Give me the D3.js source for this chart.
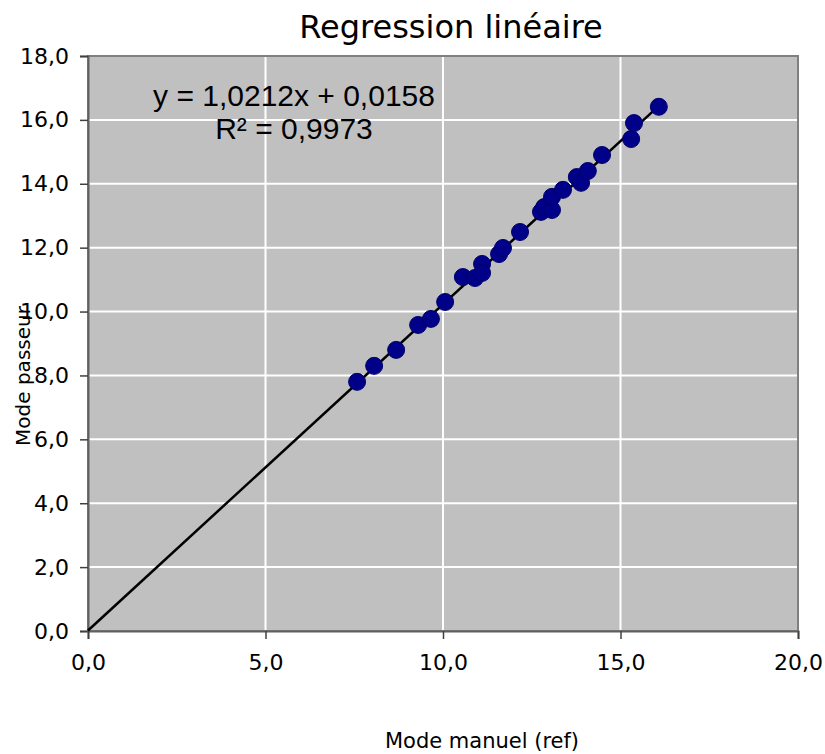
<!DOCTYPE html>
<html>
<head>
<meta charset="utf-8">
<script src="https://cdn.jsdelivr.net/npm/d3@7/dist/d3.min.js"></script>
<style>
html,body{margin:0;padding:0;background:#fff;}
svg{display:block;}
</style>
</head>
<body>
<svg id="chart" width="825" height="754"></svg>
<script>
const xValues = [7.58, 8.06, 8.68, 9.30, 9.66, 10.06, 10.56, 10.90, 11.10, 11.10, 11.58, 11.69, 12.17, 12.76, 12.85, 13.07, 13.07, 13.38, 13.77, 13.89, 14.08, 14.48, 15.30, 15.38, 16.08];
const yValues = [7.80, 8.30, 8.80, 9.58, 9.77, 10.30, 11.08, 11.05, 11.49, 11.21, 11.80, 11.99, 12.49, 13.12, 13.27, 13.18, 13.59, 13.81, 14.21, 14.03, 14.40, 14.90, 15.40, 15.90, 16.41];
const xTicks = [0, 5, 10, 15, 20];
const yTicks = [0, 2, 4, 6, 8, 10, 12, 14, 16, 18];
const slope = 1.0212, intercept = 0.0158;
const titleText = "Regression linéaire";
const eqText = "y = 1,0212x + 0,0158";
const r2Text = "R² = 0,9973";
const xTitle = "Mode manuel (ref)";
const yTitle = "Mode passeur";

const svg = d3.select("#chart");
const L = 88, R = 798, T = 56, B = 631;
const x = d3.scaleLinear().domain([0, 20]).range([L, R]);
const y = d3.scaleLinear().domain([0, 18]).range([B, T]);
const fmt = d => d.toFixed(1).replace(".", ",");

svg.append("rect").attr("x", L).attr("y", T).attr("width", R - L).attr("height", B - T).attr("fill", "#c0c0c0");

// gridlines
svg.append("g").selectAll("line").data(yTicks.slice(1, -1)).join("line")
  .attr("x1", L).attr("x2", R).attr("y1", d => y(d)).attr("y2", d => y(d))
  .attr("stroke", "#fff").attr("stroke-width", 2);
svg.append("g").selectAll("line").data(xTicks.slice(1, -1)).join("line")
  .attr("y1", T).attr("y2", B).attr("x1", d => x(d)).attr("x2", d => x(d))
  .attr("stroke", "#fff").attr("stroke-width", 2);

svg.append("rect").attr("x", L).attr("y", T).attr("width", R - L).attr("height", B - T)
  .attr("fill", "none").attr("stroke", "#808080").attr("stroke-width", 2);

// axes
const yAxis = svg.append("g").attr("transform", `translate(${L},0)`)
  .call(d3.axisLeft(y).tickValues(yTicks).tickFormat(fmt).tickSize(8).tickPadding(11));
const xAxis = svg.append("g").attr("transform", `translate(0,${B})`)
  .call(d3.axisBottom(x).tickValues(xTicks).tickFormat(fmt).tickSize(8).tickPadding(15));
[yAxis, xAxis].forEach(a => {
  a.select(".domain").attr("stroke", "#606060").attr("stroke-width", 2);
  a.selectAll(".tick line").attr("stroke", "#404040").attr("stroke-width", 1.5);
  a.selectAll(".tick text").attr("fill", "#000").style("font-family", "DejaVu Sans").style("font-size", "22px");
});

// trend line
svg.append("line")
  .attr("x1", x(0)).attr("y1", y(intercept))
  .attr("x2", x(d3.max(xValues))).attr("y2", y(slope * d3.max(xValues) + intercept))
  .attr("stroke", "#000").attr("stroke-width", 2.5);

// points
svg.append("g").selectAll("circle").data(xValues.map((v, i) => [v, yValues[i]])).join("circle")
  .attr("cx", d => x(d[0])).attr("cy", d => y(d[1])).attr("r", 8.5)
  .attr("fill", "#000088").attr("stroke", "#00006a").attr("stroke-width", 1);

// texts
svg.append("text").attr("x", 451).attr("y", 38).attr("text-anchor", "middle")
  .style("font-family", "DejaVu Sans").style("font-size", "32px").text(titleText);
svg.append("text").attr("x", 294).attr("y", 106).attr("text-anchor", "middle")
  .style("font-family", "Liberation Sans").style("font-size", "30px").text(eqText);
svg.append("text").attr("x", 294).attr("y", 139).attr("text-anchor", "middle")
  .style("font-family", "Liberation Sans").style("font-size", "30px").text(r2Text);
svg.append("text").attr("x", 482).attr("y", 748).attr("text-anchor", "middle")
  .style("font-family", "DejaVu Sans").style("font-size", "21px").text(xTitle);
svg.append("text").attr("transform", "translate(30,376) rotate(-90)").attr("text-anchor", "middle")
  .style("font-family", "DejaVu Sans").style("font-size", "20px").text(yTitle);
</script>
</body>
</html>
